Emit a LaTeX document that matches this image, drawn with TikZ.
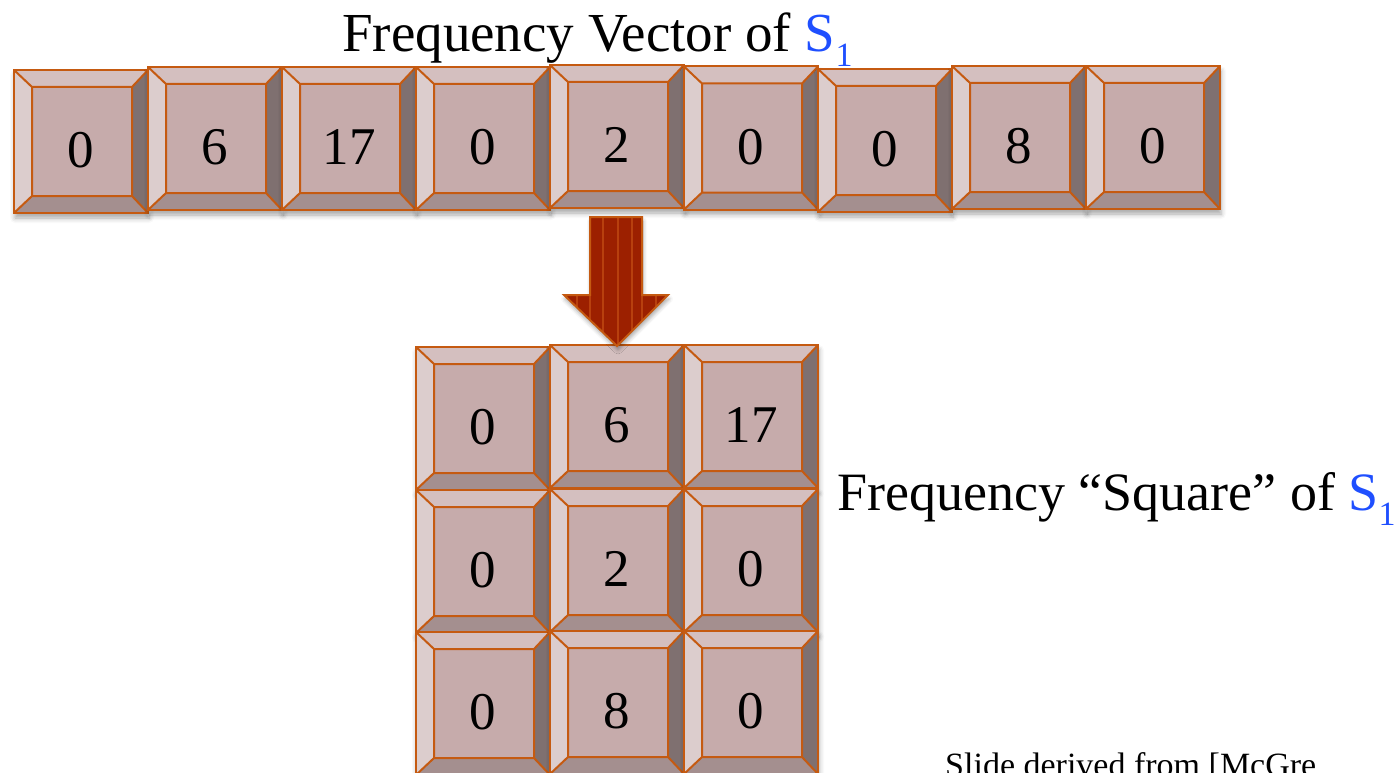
\documentclass[tikz,border=0pt]{standalone}
\usepackage{fontspec}
\setmainfont{Liberation Serif}
\usetikzlibrary{shadows.blur}
\definecolor{edge}{HTML}{C55A11}
\definecolor{kface}{HTML}{C6ABAB}
\definecolor{ktop}{HTML}{D4BFBF}
\definecolor{kleft}{HTML}{DCCDCD}
\definecolor{kright}{HTML}{7F7070}
\definecolor{kbottom}{HTML}{A48F8F}
\definecolor{arrowfill}{HTML}{9C2000}
\definecolor{arrowline}{HTML}{B8400E}
\definecolor{sblue}{HTML}{1F4FFF}
\newcommand{\subone}{{\fontsize{34}{40}\selectfont\raisebox{-15pt}{1}}}
\tikzset{
  keybox/.style={draw=edge, line width=2pt, fill=kface,
    minimum width=134pt, minimum height=143pt, inner sep=0pt, outer sep=0pt,
    font=\fontsize{53}{60}\selectfont, text height=52pt, text depth=0pt,
    blur shadow={shadow xshift=1pt, shadow yshift=-5pt, shadow blur radius=5pt, shadow opacity=35},
    path picture={
      \path (path picture bounding box.north west) coordinate (pNW)
            (path picture bounding box.north east) coordinate (pNE)
            (path picture bounding box.south east) coordinate (pSE)
            (path picture bounding box.south west) coordinate (pSW);
      \path ([shift={(18,17)}]pNW) coordinate (iNW)
            ([shift={(-16,17)}]pNE) coordinate (iNE)
            ([shift={(-16,-17)}]pSE) coordinate (iSE)
            ([shift={(18,-17)}]pSW) coordinate (iSW);
      \fill[ktop] (pNW) -- (pNE) -- (iNE) -- (iNW) -- cycle;
      \fill[kright] (pNE) -- (pSE) -- (iSE) -- (iNE) -- cycle;
      \fill[kbottom] (pSE) -- (pSW) -- (iSW) -- (iSE) -- cycle;
      \fill[kleft] (pSW) -- (pNW) -- (iNW) -- (iSW) -- cycle;
      \draw[edge, line width=2pt, line join=round] (iNW) rectangle (iSE)
        (pNW) -- (iNW) (pNE) -- (iNE) (pSE) -- (iSE) (pSW) -- (iSW);
    }},
  label text/.style={font=\fontsize{#1}{#1}\selectfont, inner sep=0pt, anchor=base west}
}
\begin{document}
\begin{tikzpicture}[x=1pt, y=-1pt]
\useasboundingbox (0,0) rectangle (1399,773);
\clip (0,0) rectangle (1399,773);
% top row
\node[keybox] (v1) at (81,141.5) {0};
\node[keybox] (v2) at (215,138.5) {6};
\node[keybox] (v3) at (349,138.5) {17};
\node[keybox] (v4) at (483,138.5) {0};
\node[keybox] (v5) at (617,136.5) {2};
\node[keybox] (v6) at (751,138) {0};
\node[keybox] (v7) at (885,140.5) {0};
\node[keybox] (v8) at (1019,137.5) {8};
\node[keybox] (v9) at (1153,137.5) {0};
% grid
\node[keybox] (g11) at (483,418.5) {0};
\node[keybox] (g12) at (617,416.5) {6};
\node[keybox] (g13) at (751,416.5) {17};
\node[keybox] (g21) at (483,561.5) {0};
\node[keybox] (g22) at (617,560.5) {2};
\node[keybox] (g23) at (751,560.5) {0};
\node[keybox] (g31) at (483,703.5) {0};
\node[keybox] (g32) at (617,702.5) {8};
\node[keybox] (g33) at (751,702.5) {0};
% block arrow
\coordinate (atip) at (617,346);
\path[blur shadow={shadow xshift=1pt, shadow yshift=-4pt, shadow blur radius=4pt, shadow opacity=35}, fill=arrowfill]
  (590,217) -- (642,217) -- (642,295) -- (668,295) -- (atip) -- (564,295) -- (590,295) -- cycle;
\begin{scope}
  \clip (590,217) -- (642,217) -- (642,295) -- (668,295) -- (atip) -- (564,295) -- (590,295) -- cycle;
  \foreach \xx in {577,590,603,618,632,642,656}
    \draw[arrowline, line width=1.5pt] (\xx,210) -- (\xx,350);
\end{scope}
\draw[edge, line width=2pt, line join=miter]
  (590,217) -- (642,217) -- (642,295) -- (668,295) -- (atip) -- (564,295) -- (590,295) -- cycle;
% texts
\node[label text=55] (title) at (342,52) {Frequency Vector of \textcolor{sblue}{S\subone}};
\node[label text=54] (sqlabel) at (837,510) {Frequency “Square” of \textcolor{sblue}{S\subone}};
\node[label text=34] (credit) at (945,776) {Slide derived from [McGre};
\end{tikzpicture}
\end{document}
